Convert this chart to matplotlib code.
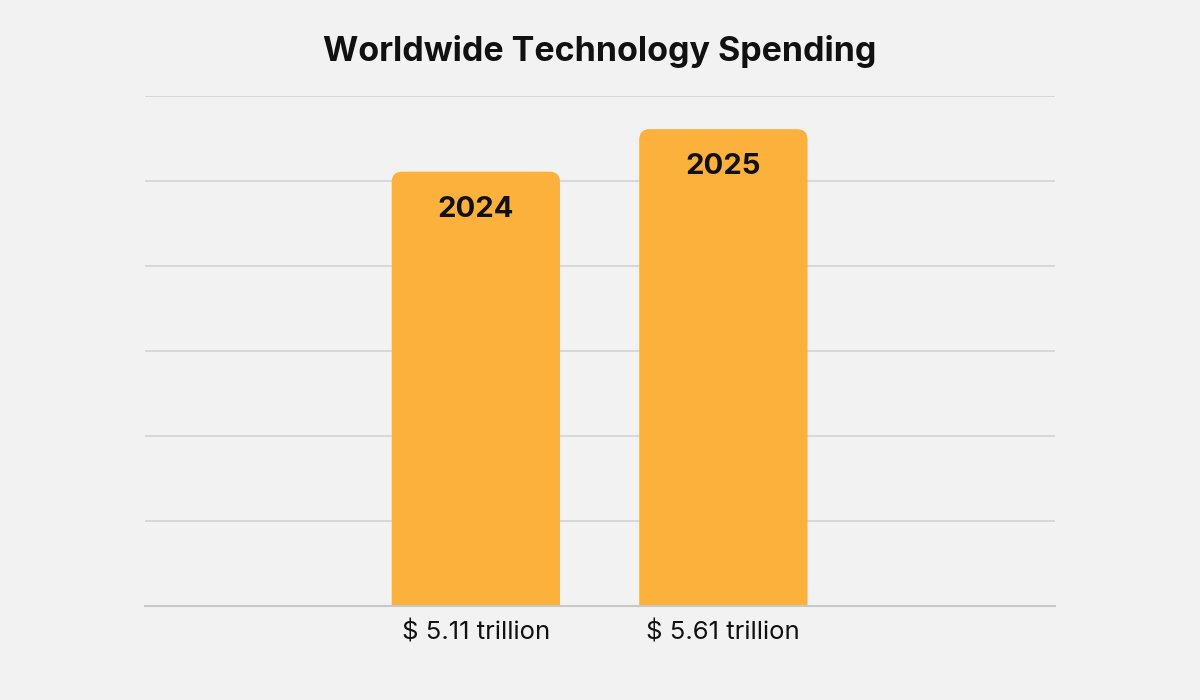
import matplotlib.pyplot as plt
from matplotlib.patches import FancyBboxPatch

years = ["2024", "2025"]
values = [5.11, 5.61]
tick_labels = ["$ 5.11 trillion", "$ 5.61 trillion"]

bg = "#f2f2f2"
bar_color = "#fbb13c"

fig = plt.figure(figsize=(12, 7), dpi=100, facecolor=bg)
ax = fig.add_axes([145 / 1200, 94 / 700, 910 / 1200, 510 / 700])
ax.set_facecolor(bg)

x = list(range(len(years)))
width = 0.68
bars = ax.bar(x, values, width=width, color=bar_color, zorder=1)

ax.set_xlim(-1.337, 2.34)
ax.set_ylim(0, 6)
ax.set_yticks(range(0, 7))
ax.yaxis.grid(True, color="#d6d6d6", linewidth=1.3)
ax.set_axisbelow(True)
ax.tick_params(axis="y", left=False, labelleft=False)
ax.tick_params(axis="x", bottom=False, pad=7)
ax.set_xticks(x)
ax.set_xticklabels(tick_labels, fontsize=18.5, family="Inter", color="#111111")
for s in ax.spines.values():
    s.set_visible(False)

# swap plain bars for ones with rounded top corners; the bottom is clipped at y=0
r = 0.042
aspect = (6 / 510) / (1 / 247.5)
for b in bars:
    b.set_visible(False)
    bx, bw, bh = b.get_x(), b.get_width(), b.get_height()
    ax.add_patch(FancyBboxPatch((bx + r, -1), bw - 2 * r, bh + 1 - r * aspect,
                                boxstyle=f"round,pad={r}", mutation_aspect=aspect,
                                facecolor=bar_color, edgecolor="none", zorder=2))

ax.axhline(0, color="#c8c8c8", linewidth=1.5, zorder=3, clip_on=False)

for xi, v, yr in zip(x, values, years):
    ax.text(xi, v - 0.44, yr, ha="center", va="center", fontsize=21,
            fontweight="bold", family="Inter", color="#111111", zorder=4)

fig.text(0.5, 1 - 52 / 700, "Worldwide Technology Spending", ha="center", va="center",
         fontsize=24.5, fontweight="bold", family="Inter", color="#111111")

fig.savefig("out.png", dpi=100, facecolor=bg)
